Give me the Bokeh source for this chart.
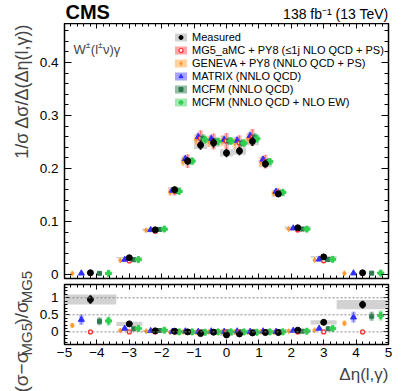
import numpy as np
from bokeh.plotting import figure
from bokeh.layouts import column, row
from bokeh.models import (Range1d, LinearAxis, Label, Legend, LegendItem, Span,
                          CustomJSTickFormatter, FixedTicker, Title)
from bokeh.core.properties import value
from bokeh.embed import file_html
from bokeh.resources import INLINE

FONT = "Liberation Sans"

# ---------------- data ----------------
bin_edges = [-5.0, -3.4, -2.6, -1.8, -1.4, -1.0, -0.6, -0.2, 0.2, 0.6, 1.0, 1.4, 1.8, 2.6, 3.4, 5.0]
# MG5_aMC + PY8 normalised cross section per bin
mg5_xsec = [0.0017, 0.0256, 0.0818, 0.157, 0.214, 0.257, 0.251, 0.252, 0.248, 0.259, 0.213, 0.155, 0.084, 0.026, 0.0018]
# (sigma - sigma_MG5)/sigma_MG5
measured_ratio = [0.95, 0.235, 0.03, 0.02, 0.0, -0.05, -0.01, -0.09, -0.06, -0.03, -0.02, -0.02, 0.05, 0.28, 0.80]
mg5_ratio      = [0.0] * 15
geneva_ratio   = [0.19, 0.04, 0.02, -0.01, 0.0, -0.01, 0.0, 0.0, 0.0, -0.01, 0.0, -0.01, 0.02, 0.05, 0.25]
matrix_ratio   = [0.36, 0.10, 0.03, 0.01, 0.02, 0.01, 0.02, 0.01, 0.02, 0.01, 0.02, 0.01, 0.04, 0.10, 0.43]
mcfm_ratio     = [0.31, 0.09, 0.04, 0.0, 0.0, 0.0, 0.0, 0.0, 0.0, 0.0, 0.0, 0.0, 0.02, 0.09, 0.46]
mcfmew_ratio   = [0.32, 0.10, 0.05, 0.0, 0.0, -0.01, 0.0, 0.0, 0.0, -0.01, 0.0, 0.0, 0.02, 0.10, 0.48]
# relative uncertainties
measured_stat_rel = [0.065, 0.04, 0.03, 0.035, 0.035, 0.035, 0.035, 0.035, 0.035, 0.035, 0.035, 0.035, 0.03, 0.04, 0.065]
measured_syst_rel = [0.077, 0.05, 0.03, 0.03, 0.03, 0.03, 0.03, 0.03, 0.03, 0.03, 0.03, 0.03, 0.03, 0.047, 0.077]
mg5_rel    = [0.03, 0.03, 0.03, 0.05, 0.06, 0.06, 0.06, 0.06, 0.06, 0.06, 0.06, 0.05, 0.03, 0.03, 0.03]
geneva_rel = [0.06, 0.03, 0.02, 0.04, 0.04, 0.04, 0.04, 0.04, 0.04, 0.04, 0.04, 0.04, 0.02, 0.03, 0.06]
matrix_rel = [0.11, 0.04, 0.02, 0.03, 0.03, 0.03, 0.03, 0.03, 0.03, 0.03, 0.03, 0.03, 0.02, 0.04, 0.11]
mcfm_rel   = [0.09, 0.03, 0.02, 0.03, 0.03, 0.03, 0.03, 0.03, 0.03, 0.03, 0.03, 0.03, 0.02, 0.03, 0.09]
mcfmew_rel = [0.10, 0.03, 0.02, 0.03, 0.03, 0.03, 0.03, 0.03, 0.03, 0.03, 0.03, 0.03, 0.02, 0.03, 0.10]

x_ticks = [-5, -4, -3, -2, -1, 0, 1, 2, 3, 4, 5]
y_ticks_top = [0, 0.1, 0.2, 0.3, 0.4]
y_ticks_ratio = [0, 0.5, 1]

legend_labels = ["Measured", "MG5_aMC + PY8 (\u22641j NLO QCD + PS)", "GENEVA + PY8 (NNLO QCD + PS)",
                 "MATRIX (NNLO QCD)", "MCFM (NNLO QCD)", "MCFM (NNLO QCD + NLO EW)"]

# ---------------- styling ----------------
models = [
    # ratio, rel unc, point colour, box colour, marker, marker size, offset (fraction of bin width)
    (geneva_ratio, geneva_rel, "#ff9a30", "#ffcf9c", "diamond", 5, -0.35),
    (matrix_ratio, matrix_rel, "#2f2fff", "#a0a0ff", "triangle", 6, -0.175),
    (mg5_ratio, mg5_rel, "#ff2a2a", "#ffa0a0", "circle", 4, 0.0),
    (mcfm_ratio, mcfm_rel, "#2b7a4f", "#8fb8a0", "square", 4, 0.175),
    (mcfmew_ratio, mcfmew_rel, "#2fcf4f", "#9ae8aa", "plus", 6, 0.35),
]

edges = np.array(bin_edges)
lo, hi = edges[:-1], edges[1:]
ctr = 0.5 * (lo + hi)
wid = hi - lo
mg5 = np.array(mg5_xsec)
BOX_HW = 0.075

fmt = CustomJSTickFormatter(code="""
var s = parseFloat(tick.toFixed(3)).toString();
return s.replace('-', '\\u2212');
""")
nofmt = CustomJSTickFormatter(code="return '';")

WA = 34          # width of the left column holding the axis titles
LEFT = 30        # border left of the frames (tick labels)
FW = 324


def style(ax, labels, tin, tmin, standoff=6):
    ax.major_tick_in = tin
    ax.major_tick_out = 0
    ax.minor_tick_in = tmin
    ax.minor_tick_out = 0
    ax.axis_line_color = None
    ax.major_tick_line_color = "black"
    ax.minor_tick_line_color = "black"
    ax.major_tick_line_width = 1
    ax.minor_tick_line_width = 1
    if labels:
        ax.formatter = fmt
        ax.major_label_text_font = FONT
        ax.major_label_text_font_size = "13.5px"
        ax.major_label_text_color = "black"
        ax.major_label_standoff = standoff
    else:
        ax.formatter = nofmt
        ax.major_label_standoff = 0


def make_fig(fh, yr, mtop, mbot):
    p = figure(frame_width=FW, frame_height=fh, x_range=Range1d(-5, 5), y_range=yr,
               output_backend="svg", toolbar_location=None, title_location=None,
               min_border_left=LEFT, min_border_right=10, min_border_top=mtop, min_border_bottom=mbot)
    p.grid.visible = False
    p.outline_line_color = "black"
    p.outline_line_width = 1.5
    p.background_fill_color = "white"
    p.border_fill_color = "white"
    return p


def blank(w, h, left=0, right=0):
    f = figure(frame_width=w, frame_height=h, x_range=Range1d(0, w), y_range=Range1d(0, h),
               x_axis_type=None, y_axis_type=None, output_backend="svg", toolbar_location=None,
               title_location=None, min_border=0, min_border_left=left, min_border_right=right)
    f.grid.visible = False
    f.outline_line_color = None
    f.background_fill_color = "white"
    f.border_fill_color = "white"
    return f


xt = FixedTicker(ticks=x_ticks, minor_ticks=list(np.round(np.arange(-5, 5.01, 0.2), 2)))

p1 = make_fig(255, Range1d(-0.0075, 0.4736), 0, 5)
p2 = make_fig(60, Range1d(-0.37, 1.39), 1, 47)

yt1 = FixedTicker(ticks=y_ticks_top, minor_ticks=list(np.round(np.arange(0, 0.47, 0.02), 3)))
yt2 = FixedTicker(ticks=y_ticks_ratio, minor_ticks=list(np.round(np.arange(-0.3, 1.39, 0.1), 2)))

for p, yt, tin, tmin, xlab in ((p1, yt1, 7, 4, False), (p2, yt2, 5, 3, True)):
    p.add_layout(LinearAxis(), "right")
    p.add_layout(LinearAxis(), "above")
    for ax in p.xaxis:
        ax.ticker = xt
    for ax in p.yaxis:
        ax.ticker = yt
    style(p.below[0], xlab, 5, 3, standoff=3)
    style(p.above[0], False, 5, 3)
    style(p.left[0], True, tin, tmin, standoff=6)
    style(p.right[0], False, tin, tmin)

for yv in y_ticks_ratio:
    p2.add_layout(Span(location=yv, dimension="width", line_color="#888888",
                       line_dash="2 2", line_width=1))

meas_r = np.array(measured_ratio)
stat = np.array(measured_stat_rel)
syst = np.array(measured_syst_rel)

for p, scale, shift in ((p1, mg5, 0.0), (p2, np.ones(15), 1.0)):
    yv = (1 + meas_r) * scale - shift
    base = (1 + meas_r) * scale
    p.quad(left=lo, right=hi, bottom=yv - base * syst, top=yv + base * syst,
           fill_color="#d2d2d2", line_color=None)
    for r, rel, col, bcol, mk, ms, off in models:
        r = np.array(r)
        rel = np.array(rel)
        xm = ctr + off * wid
        ym = (1 + r) * scale - shift
        em = (1 + r) * scale * rel
        p.quad(left=xm - BOX_HW, right=xm + BOX_HW, bottom=ym - em, top=ym + em,
               fill_color=bcol, fill_alpha=0.55, line_color=None)
        p.segment(x0=xm, x1=xm, y0=ym - em, y1=ym + em, line_color=col, line_alpha=0.55, line_width=1.5)
    for r, rel, col, bcol, mk, ms, off in models:
        r = np.array(r)
        xm = ctr + off * wid
        ym = (1 + r) * scale - shift
        if mk == "circle":
            p.scatter(xm, ym, marker=mk, size=ms, fill_color="white", line_color=col, line_width=1.3)
        else:
            p.scatter(xm, ym, marker=mk, size=ms, fill_color=col, line_color=col)
    p.segment(x0=ctr, x1=ctr, y0=yv - base * stat, y1=yv + base * stat, line_color="black", line_width=2)
    p.scatter(ctr, yv, marker="circle", size=6, fill_color="black", line_color="black")

# ---------------- legend (renderers placed outside the visible x range) ----------------
OFF = dict(left=[20.0], right=[21.0], bottom=[0.0], top=[0.1])
items = []
leg_box = p1.quad(**OFF, fill_color="#d2d2d2", line_color=None)
leg_bar = p1.scatter(x=[20.5], y=[0.05], marker="dash", angle=np.pi / 2, size=10, line_color="black", line_width=2)
leg_pt = p1.scatter(x=[20.5], y=[0.05], marker="circle", size=6, fill_color="black", line_color="black")
items.append(LegendItem(label=legend_labels[0], renderers=[leg_box, leg_bar, leg_pt]))
order = [2, 0, 1, 3, 4]
for lab, mi in zip(legend_labels[1:], order):
    r, rel, col, bcol, mk, ms, off = models[mi]
    b = p1.quad(**OFF, fill_color=bcol, fill_alpha=0.95, line_color=None)
    if mk == "circle":
        s = p1.scatter(x=[20.5], y=[0.05], marker=mk, size=4, fill_color="white", line_color=col, line_width=1.2)
    else:
        s = p1.scatter(x=[20.5], y=[0.05], marker=mk, size=ms - 1, fill_color=col, line_color=col)
    items.append(LegendItem(label=lab, renderers=[b, s]))

leg = Legend(items=items, location=(109, 170), orientation="vertical",
             label_text_font=FONT, label_text_font_size="11px", label_text_color="black",
             glyph_width=15, glyph_height=10, label_height=13, label_standoff=4,
             spacing=0, padding=0, margin=0, border_line_color=None,
             background_fill_alpha=0.0)
p1.add_layout(leg)

# ---------------- header (CMS + luminosity), data units = pixels ----------------
HH = 23
header = blank(FW, HH, left=LEFT, right=10)
header.text(x=[1], y=[HH - 11.7], text=["CMS"], text_font=value(FONT), text_font_style="bold",
            text_font_size="20px", text_baseline="middle", text_align="left")
header.text(x=[FW], y=[HH - 13.3], text=["138 fb\u207b\u00b9 (13 TeV)"], text_font=value(FONT),
            text_font_size="14px", text_baseline="middle", text_align="right")

# W±(l±ν)γ with raised ±
pieces = [("W", 13, 0, 12.3), ("\u00b1", 8.5, 5, 5.0), ("(l", 13, 0, 7.2), ("\u00b1", 8.5, 5, 5.0), ("\u03bd)\u03b3", 13, 0, 0)]
xx = 9.0
for t, fs, dy, w in pieces:
    p1.add_layout(Label(x=xx, y=229 + dy, x_units="screen", y_units="screen", text=t,
                        text_font=FONT, text_font_size=f"{fs}px", text_baseline="alphabetic",
                        text_align="left"))
    xx += w

# ---------------- y-axis titles (left column) ----------------
A1H = 258
A2H = 391 - A1H
a1 = blank(WA, A1H)
a1.add_layout(Label(x=21, y=A1H - 23, x_units="screen", y_units="screen",
                    text="1/\u03c3 \u0394\u03c3/\u0394(\u0394\u03b7(l,\u03b3))",
                    text_font=FONT, text_font_size="18px", angle=np.pi / 2,
                    text_baseline="alphabetic", text_align="right"))

a2 = blank(WA, A2H)
rp = [("(\u03c3\u2212\u03c3", 19, 0, 37.0), ("MG5", 15, 4.5, 30.9), (")/\u03c3", 19, 0, 21.3), ("MG5", 15, 4.5, 30.9)]
yy = -1.0
for t, fs, dx, w in rp:
    a2.add_layout(Label(x=21 + dx, y=yy, x_units="screen", y_units="screen", text=t,
                        text_font=FONT, text_font_size=f"{fs}px", angle=np.pi / 2,
                        text_baseline="alphabetic", text_align="left"))
    yy += w

p2.add_layout(Title(text="\u0394\u03b7(l,\u03b3)", align="right", text_font=FONT,
                    text_font_size="17px", text_font_style="normal", standoff=6), "below")

layout = row(column(a1, a2, spacing=0), column(header, p1, p2, spacing=0), spacing=0)
open("out.html", "w").write(file_html(layout, INLINE))
